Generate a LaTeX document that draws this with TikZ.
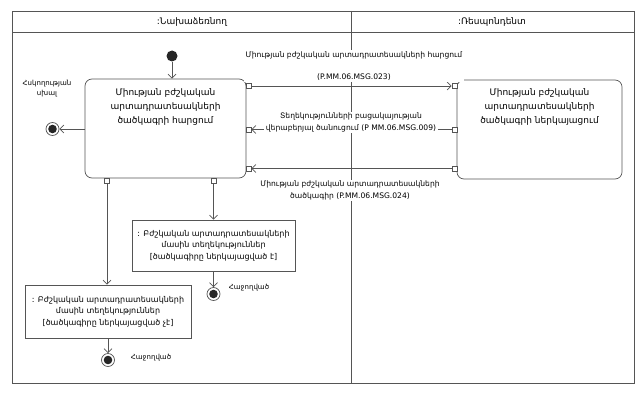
\documentclass[tikz,border=0pt]{standalone}
\usepackage{fontspec}
\setmainfont{DejaVu Sans}
\usetikzlibrary{arrows.meta}
\definecolor{lc}{HTML}{555555}
\definecolor{dotc}{HTML}{262626}
\begin{document}
\begin{tikzpicture}[x=1pt,y=-1pt, line width=0.7pt,
  ln/.style={draw=lc},
  arr/.style={draw=lc, -{Straight Barb[length=4pt,width=8pt]}},
  port/.style={draw=lc, fill=white, minimum size=5pt, inner sep=0pt, line width=0.6pt},
  act/.style={draw=lc, rounded corners=7pt},
  acttxt/.style={align=center, inner sep=0pt, font=\fontsize{9}{14}\selectfont},
  obj/.style={draw=lc, align=center, font=\fontsize{8}{11.5}\selectfont},
  msg/.style={fill=white, align=center, inner sep=1.5pt, font=\fontsize{7.6}{11.5}\selectfont},
  lbl/.style={align=center, inner sep=0pt, font=\fontsize{7}{9.5}\selectfont},
  hdr/.style={font=\fontsize{9}{11}\selectfont},
  initst/.style={circle, fill=dotc, minimum size=11pt, inner sep=0pt},
  finst/.style={circle, draw=lc, fill=white, minimum size=13pt, inner sep=0pt,
    path picture={\fill[dotc] (path picture bounding box.center) circle (4.3pt);}},
]
\useasboundingbox (0,0) rectangle (644,393);
% frame and lanes
\draw[ln] (12,11) rectangle (634,383);
\draw[ln] (12,32) -- (634,32);
\coordinate (laneTop) at (351,11);
\coordinate (laneBot) at (351,383);
\draw[ln] (laneTop) -- (laneBot);
\node[hdr] (hdrL) at (192,22) {:Նախաձեռնող};
\node[hdr] (hdrR) at (492,22) {:Ռեսպոնդենտ};

% activities
\node[initst] (start) at (172,56) {};
\node[act, minimum width=161pt, minimum height=99pt] (mainbox) at (165.5,128.5) {};
\node[acttxt, anchor=north] (maintxt) at (165.5,88) {Միության բժշկական\\արտադրատեսակների\\ծածկագրի հարցում};
\node[act, minimum width=165pt, minimum height=99pt] (respbox) at (539.5,129.5) {};
\node[acttxt, anchor=north] (resptxt) at (539.5,88) {Միության բժշկական\\արտադրատեսակների\\ծածկագրի ներկայացում};

% ports
\node[port] (p1) at (248.5,86) {};
\node[port] (p2) at (248.5,129.5) {};
\node[port] (p3) at (248.5,168.5) {};
\node[port] (q1) at (454.5,86) {};
\node[port] (q2) at (454.5,129.5) {};
\node[port] (q3) at (454.5,168.5) {};
\node[port] (pb1) at (107,180.5) {};
\node[port] (pb2) at (213.5,180.5) {};

% objects
\node[obj, minimum width=163pt, minimum height=51pt] (obj1) at (213.5,245.5) {: Բժշկական արտադրատեսակների\\մասին տեղեկություններ\\{}[ծածկագիրը ներկայացված է]};
\node[obj, minimum width=166pt, minimum height=53pt] (obj2) at (108,311.5) {: Բժշկական արտադրատեսակների\\մասին տեղեկություններ\\{}[ծածկագիրը ներկայացված չէ]};

% final states
\node[finst] (fin1) at (52.5,129) {};
\node[lbl] (fin1lbl) at (47,88.5) {Հսկողության\\սխալ};
\node[finst] (fin2) at (213.5,294) {};
\node[lbl] (fin2lbl) at (249,288) {Հաջողված};
\node[finst] (fin3) at (108,360) {};
\node[lbl] (fin3lbl) at (151,358) {Հաջողված};

% control flows
\draw[arr] (start) -- (start |- mainbox.north);
\draw[arr] (mainbox.west |- fin1) -- (fin1);
\draw[arr] (pb1.south) -- (pb1.south |- obj2.north);
\draw[arr] (pb2.south) -- (pb2.south |- obj1.north);
\draw[arr] (obj1.south) -- (fin2);
\draw[arr] (obj2.south) -- (fin3);

% messages
\draw[arr] (p1.east) -- (q1.west);
\draw[arr] (q2.west) -- (p2.east);
\draw[arr] (q3.west) -- (p3.east);
\node[msg] (m1) at (354,66) {Միության բժշկական արտադրատեսակների հարցում\\[10pt](P.MM.06.MSG.023)};
\node[msg] (m2) at (351,122.5) {Տեղեկությունների բացակայության\\վերաբերյալ ծանուցում (P MM.06.MSG.009)};
\node[msg] (m3) at (350,190.5) {Միության բժշկական արտադրատեսակների\\ծածկագիր (P.MM.06.MSG.024)};
\end{tikzpicture}
\end{document}
